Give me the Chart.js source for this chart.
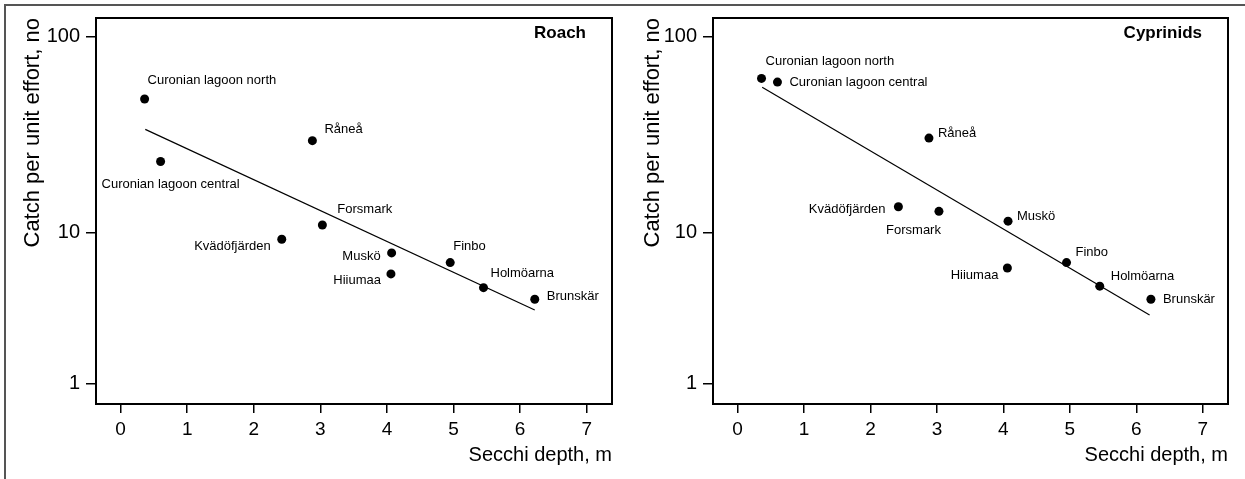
<!DOCTYPE html>
<html>
<head>
<meta charset="utf-8">
<script src="https://cdn.jsdelivr.net/npm/chart.js@4.4.1/dist/chart.umd.min.js"></script>
<style>
  html, body { margin: 0; padding: 0; background: #fff; overflow: hidden; }
  #page { position: relative; width: 1245px; height: 479px; }
  #frame { position: absolute; left: 4px; top: 4px; width: 1300px; height: 600px; border-top: 2px solid #555; border-left: 2px solid #555; }
  canvas { position: absolute; top: 0; }
</style>
</head>
<body>
<div id="page">
  <div id="frame"></div>
  <canvas id="roachChart" width="620" height="479" style="left:0"></canvas>
  <canvas id="cyprinidChart" width="625" height="479" style="left:620px"></canvas>
</div>
<script>
// sites, same order in both panels
var sites = ['Curonian lagoon north', 'Curonian lagoon central', 'Råneå', 'Forsmark', 'Kvädöfjärden',
             'Muskö', 'Hiiumaa', 'Finbo', 'Holmöarna', 'Brunskär'];
var secchiDepth = [0.36, 0.6, 2.88, 3.03, 2.42, 4.07, 4.06, 4.95, 5.45, 6.22];
var roachCpue = [48, 23, 29.4, 10.9, 9.0, 7.3, 5.3, 6.3, 4.3, 3.6];
var cyprinidCpue = [61.2, 58.6, 30.3, 12.8, 13.5, 11.4, 5.8, 6.3, 4.4, 3.6];

// regression lines (end points)
var roachFitX = [0.37, 6.22];
var roachFitY = [33.6, 3.06];
var cyprinidFitX = [0.37, 6.2];
var cyprinidFitY = [55.1, 2.83];

var xTicks = [0, 1, 2, 3, 4, 5, 6, 7];
var yTicks = [1, 10, 100];

// where each site name sits next to its dot: [align, dx, dy]
var roachLabelPlace = [['left', 3, -19], ['center', 10, 23], ['left', 12, -11], ['left', 15, -16], ['right', -11, 7],
                       ['right', -11, 3], ['right', -10, 6], ['left', 3, -16], ['left', 7, -14], ['left', 12, -3]];
var cyprinidLabelPlace = [['left', 4, -17], ['left', 12, 0], ['left', 9, -5], ['right', 2, 19], ['right', -13, 3],
                          ['left', 9, -5], ['right', -9, 7], ['left', 9, -10], ['left', 11, -10], ['left', 12, 0]];

var FONT = '"Liberation Sans", Arial, Helvetica, sans-serif';
Chart.defaults.font.family = FONT;
Chart.defaults.color = '#000';

// log axis of the original: the 1-10 decade is drawn shorter than the 10-100 one
class SplitLogScale extends Chart.LinearScale {
    determineDataLimits() {
        this.min = this.options.min;
        this.max = this.options.max;
    }
    buildTicks() {
        return yTicks.map(function(v) { return { value: v }; });
    }
    warp(v) {
        var l = Math.log10(v);
        var low = this.options.lowDecade;
        return l <= 1 ? l * low : low + (l - 1);
    }
    getPixelForValue(v) {
        var a = this.warp(this.min), b = this.warp(this.max);
        return this.getPixelForDecimal((this.warp(v) - a) / (b - a));
    }
    getValueForPixel(p) {
        var a = this.warp(this.min), b = this.warp(this.max);
        var w = a + this.getDecimalForPixel(p) * (b - a);
        var low = this.options.lowDecade;
        return Math.pow(10, w <= low ? w / low : 1 + (w - low));
    }
}
SplitLogScale.id = 'splitlog';
SplitLogScale.defaults = {};
Chart.register(SplitLogScale);

var siteLabels = {
    id: 'siteLabels',
    afterDatasetsDraw: function(chart, args, opts) {
        var ctx = chart.ctx;
        var meta = chart.getDatasetMeta(0);
        var a = chart.chartArea;
        ctx.save();
        ctx.fillStyle = '#000';
        ctx.textBaseline = 'middle';
        ctx.font = '13px ' + FONT;
        opts.place.forEach(function(p, i) {
            var pt = meta.data[i];
            ctx.textAlign = p[0];
            ctx.fillText(sites[i], pt.x + p[1], pt.y + p[2]);
        });
        ctx.font = 'bold 17px ' + FONT;
        ctx.textAlign = 'right';
        ctx.fillText(opts.panel, a.right - 26, a.top + 15);
        ctx.lineWidth = 2;
        ctx.strokeStyle = '#000';
        ctx.strokeRect(a.left, a.top, a.right - a.left, a.bottom - a.top);
        ctx.restore();
    }
};

function makePanel(canvasId, panel, cpue, fitX, fitY, place, axisWidth, padRight) {
    var points = secchiDepth.map(function(x, i) { return { x: x, y: cpue[i] }; });
    var fit = fitX.map(function(x, i) { return { x: x, y: fitY[i] }; });
    return new Chart(document.getElementById(canvasId), {
        type: 'scatter',
        data: {
            datasets: [{
                data: points,
                pointRadius: 4.5,
                backgroundColor: '#000',
                borderWidth: 0
            }, {
                data: fit,
                showLine: true,
                pointRadius: 0,
                borderColor: '#000',
                borderWidth: 1.2
            }]
        },
        options: {
            responsive: false,
            devicePixelRatio: 1,
            animation: false,
            layout: { padding: { left: 0, top: 18, right: padRight, bottom: 0 } },
            plugins: {
                legend: { display: false },
                tooltip: { enabled: false },
                siteLabels: { place: place, panel: panel }
            },
            scales: {
                x: {
                    type: 'linear',
                    min: -0.37,
                    max: 7.38,
                    afterBuildTicks: function(s) { s.ticks = xTicks.map(function(v) { return { value: v }; }); },
                    afterFit: function(s) { s.height = 75; },
                    border: { display: false },
                    grid: { drawOnChartArea: false, tickLength: 9, color: '#000', lineWidth: 1.5 },
                    ticks: { font: { size: 19 }, padding: 5, color: '#000' },
                    title: {
                        display: true, text: 'Secchi depth, m', align: 'end', color: '#000',
                        font: { size: 20 }, padding: { top: 0, bottom: 12 }
                    }
                },
                y: {
                    type: 'splitlog',
                    min: 0.7295,
                    max: 124.6,
                    lowDecade: 0.772,
                    afterFit: function(s) { s.width = axisWidth; },
                    border: { display: false },
                    grid: { drawOnChartArea: false, tickLength: 10, color: '#000', lineWidth: 1.5 },
                    ticks: { font: { size: 20 }, padding: 6, color: '#000', callback: function(v) { return String(v); } },
                    title: {
                        display: true, text: 'Catch per unit effort, no', align: 'end', color: '#000',
                        font: { size: 22 }, padding: { top: 20, bottom: 0 }
                    }
                }
            }
        },
        plugins: [siteLabels]
    });
}

makePanel('roachChart', 'Roach', roachCpue, roachFitX, roachFitY, roachLabelPlace, 96, 8);
makePanel('cyprinidChart', 'Cyprinids', cyprinidCpue, cyprinidFitX, cyprinidFitY, cyprinidLabelPlace, 93, 17);
</script>
</body>
</html>
